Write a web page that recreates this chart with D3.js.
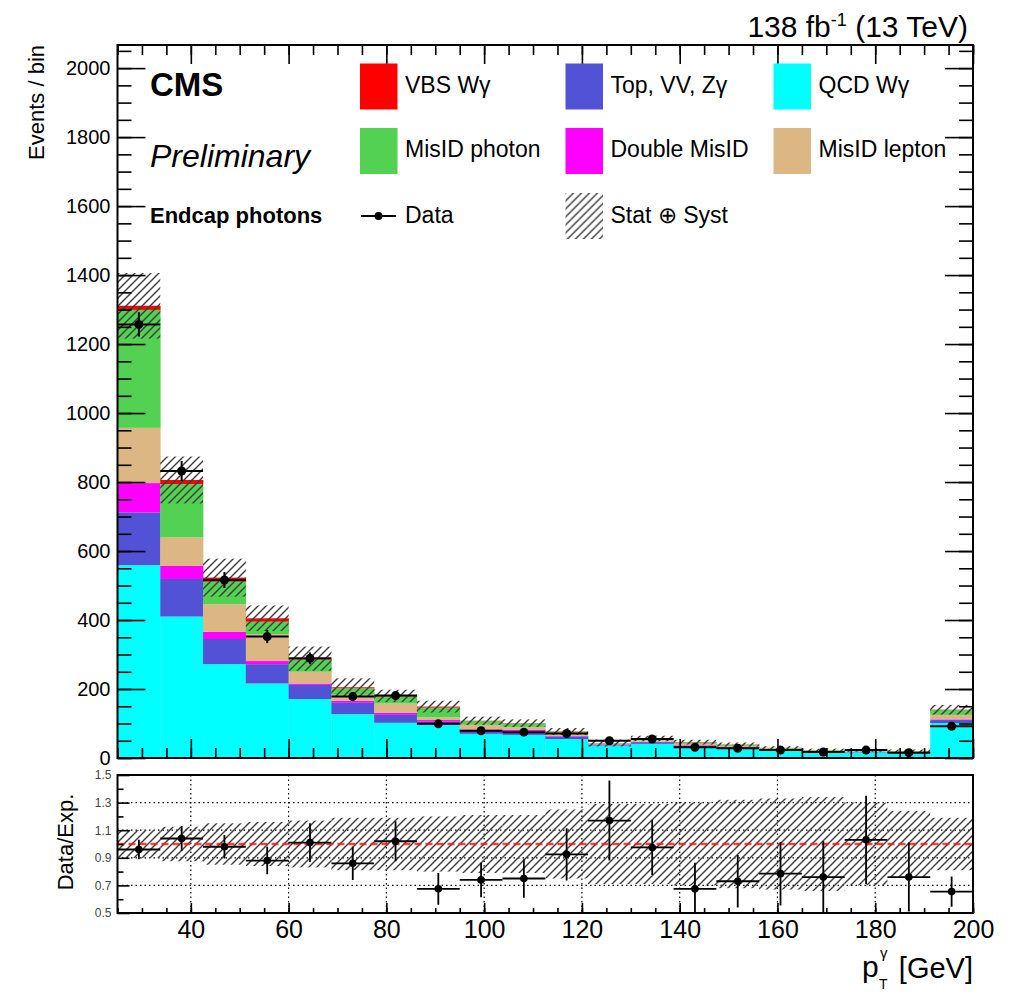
<!DOCTYPE html>
<html>
<head>
<meta charset="utf-8">
<script src="https://cdn.jsdelivr.net/npm/d3@7"></script>
<style>
  body { margin: 0; background: #fff; }
  svg { font-family: "Liberation Sans", Arial, Helvetica, sans-serif; }
</style>
</head>
<body>
<div id="chart"></div>
<script>
// bin edges of the photon pT histogram (last bin holds the overflow)
const binEdges = [25, 33.75, 42.5, 51.25, 60, 68.75, 77.5, 86.25, 95, 103.75, 112.5,
                  121.25, 130, 138.75, 147.5, 156.25, 165, 173.75, 182.5, 191.25, 200];

// stacked backgrounds, bottom to top
const qcdWg   = [559, 410, 272, 216, 171, 127, 102, 96, 70, 67, 55, 36, 41, 30, 27, 21, 17, 16, 14, 101];
const topVV   = [153, 109, 73, 56, 41, 33, 23, 9, 9, 9, 7, 3, 5, 5, 4, 3, 2, 2, 2, 9];
const dblMis  = [85, 38, 21, 9, 4, 6, 6, 5, 4, 6, 2, 1, 1, 2, 1, 1, 1, 0.5, 1, 2];
const misLep  = [160, 83, 80, 78, 34, 17, 27, 8, 13, 7, 7, 2, 5, 4, 3, 2, 1, 1.5, 1.5, 13];
const misPho  = [342, 154, 65, 36, 35, 19, 20, 28, 11, 11, 5, 1, 4, 4, 3, 2, 1.5, 1.5, 1.5, 14];
const vbsWg   = [12, 12, 12, 10, 3, 3, 2, 3, 1, 1, 1, 0.5, 0.5, 1, 1, 0.5, 0.5, 0.5, 0.5, 1];

// stat+syst band on the total (events)
const uncMain = [95, 68, 55, 37, 35, 26, 18, 17, 12, 11, 10, 10, 8, 7, 6, 5, 4, 4, 4, 14];

// observed data
const dataVals = [1257, 832, 516, 352, 289, 178, 181, 99, 79, 75, 71, 50, 55, 31, 28, 23, 17.5, 23, 15.5, 92];
const dataErr  = [35, 29, 23, 19, 17, 13, 13, 10, 9, 9, 8, 7, 7, 6, 5, 5, 4, 5, 4, 10];

// ratio panel
const ratioVals = [0.96, 1.04, 0.98, 0.88, 1.01, 0.86, 1.02, 0.675, 0.74, 0.75, 0.925, 1.17, 0.975,
                   0.675, 0.73, 0.785, 0.76, 1.03, 0.76, 0.655];
const ratioErr  = [0.07, 0.09, 0.085, 0.1, 0.14, 0.12, 0.145, 0.115, 0.125, 0.14, 0.19, 0.29, 0.2,
                   0.19, 0.19, 0.23, 0.26, 0.32, 0.25, 0.11];
const ratioUnc  = [0.10, 0.125, 0.15, 0.16, 0.17, 0.19, 0.19, 0.2, 0.21, 0.21, 0.25, 0.29, 0.29,
                   0.3, 0.32, 0.33, 0.34, 0.3, 0.24, 0.19];

const keys = ["qcd", "top", "dbl", "lep", "pho", "vbs"];
const colors = {
    qcd: "#00ffff", top: "#5252d6", dbl: "#ff00ff",
    lep: "#dcb683", pho: "#52d152", vbs: "#ff0000"
};

const xTicks = [40, 60, 80, 100, 120, 140, 160, 180, 200];
const yTicks = [0, 200, 400, 600, 800, 1000, 1200, 1400, 1600, 1800, 2000];
const rTicks = [0.5, 0.7, 0.9, 1.1, 1.3, 1.5];

const W = 1011, H = 993;
const L = 117.5, R = 973, T = 45, B = 758, RT = 775, RB = 913;

const svg = d3.select("#chart").append("svg")
    .attr("width", W)
    .attr("height", H);

const x = d3.scaleLinear().domain([25, 200]).range([L, R]);
const y = d3.scaleLinear().domain([0, 2067]).range([B, T]);
const yr = d3.scaleLinear().domain([0.5, 1.5]).range([RB, RT]);

const defs = svg.append("defs");
defs.append("pattern")
    .attr("id", "hatch")
    .attr("patternUnits", "userSpaceOnUse")
    .attr("width", 8)
    .attr("height", 8)
    .append("path")
    .attr("d", "M-2,2 l4,-4 M0,8 l8,-8 M6,10 l4,-4")
    .attr("stroke", "#3a3a3a")
    .attr("stroke-width", 1.4);
defs.append("clipPath").attr("id", "clipRatio")
    .append("rect").attr("x", L).attr("y", RT).attr("width", R - L).attr("height", RB - RT);
defs.append("clipPath").attr("id", "clipMain")
    .append("rect").attr("x", L).attr("y", T).attr("width", R - L).attr("height", B - T);

const rows = binEdges.slice(0, -1).map((lo, i) => ({
    lo: lo, hi: binEdges[i + 1],
    qcd: qcdWg[i], top: topVV[i], dbl: dblMis[i], lep: misLep[i], pho: misPho[i], vbs: vbsWg[i]
}));
const stacked = d3.stack().keys(keys)(rows);

// ---- main panel ----
const main = svg.append("g").attr("clip-path", "url(#clipMain)");

main.selectAll("g.layer")
    .data(stacked)
    .join("g")
    .attr("class", "layer")
    .attr("fill", d => colors[d.key])
    .selectAll("rect")
    .data(d => d)
    .join("rect")
    .attr("x", d => x(d.data.lo))
    .attr("width", d => x(d.data.hi) - x(d.data.lo) + 0.3)
    .attr("y", d => y(d[1]))
    .attr("height", d => y(d[0]) - y(d[1]));

const totals = stacked[stacked.length - 1].map(d => d[1]);

main.selectAll("rect.band")
    .data(rows)
    .join("rect")
    .attr("class", "band")
    .attr("x", d => x(d.lo))
    .attr("width", d => x(d.hi) - x(d.lo))
    .attr("y", (d, i) => y(totals[i] + uncMain[i]))
    .attr("height", (d, i) => y(totals[i] - uncMain[i]) - y(totals[i] + uncMain[i]))
    .attr("fill", "url(#hatch)");

const pts = main.selectAll("g.pt")
    .data(rows)
    .join("g")
    .attr("class", "pt");
pts.append("line")
    .attr("x1", d => x(d.lo)).attr("x2", d => x(d.hi))
    .attr("y1", (d, i) => y(dataVals[i])).attr("y2", (d, i) => y(dataVals[i]))
    .attr("stroke", "#000").attr("stroke-width", 2);
pts.append("line")
    .attr("x1", d => x((d.lo + d.hi) / 2)).attr("x2", d => x((d.lo + d.hi) / 2))
    .attr("y1", (d, i) => y(dataVals[i] - dataErr[i])).attr("y2", (d, i) => y(dataVals[i] + dataErr[i]))
    .attr("stroke", "#000").attr("stroke-width", 2);
pts.append("circle")
    .attr("cx", d => x((d.lo + d.hi) / 2))
    .attr("cy", (d, i) => y(dataVals[i]))
    .attr("r", 4.5)
    .attr("fill", "#000");

// main axes
function styleAxis(g) {
    g.select(".domain").remove();
    g.selectAll(".tick line").attr("stroke", "#000").attr("stroke-width", 1.6);
}
const minorX = d3.range(25, 200.1, 5);
const minorY = d3.range(0, 2067, 50);

svg.append("g").attr("transform", `translate(0,${B})`)
    .call(d3.axisBottom(x).tickValues(xTicks).tickSize(-19).tickFormat("")).call(styleAxis);
svg.append("g").attr("transform", `translate(0,${B})`)
    .call(d3.axisBottom(x).tickValues(minorX).tickSize(-10).tickFormat("")).call(styleAxis);
svg.append("g").attr("transform", `translate(0,${T})`)
    .call(d3.axisTop(x).tickValues(xTicks).tickSize(-19).tickFormat("")).call(styleAxis);
svg.append("g").attr("transform", `translate(0,${T})`)
    .call(d3.axisTop(x).tickValues(minorX).tickSize(-10).tickFormat("")).call(styleAxis);

svg.append("g").attr("transform", `translate(${L},0)`)
    .call(d3.axisLeft(y).tickValues(yTicks).tickSize(-28).tickPadding(7).tickFormat(d3.format("d")))
    .call(styleAxis)
    .call(g => g.selectAll("text").attr("font-size", 20).attr("fill", "#000")
        .attr("font-family", "Liberation Sans, Arial, sans-serif"));
svg.append("g").attr("transform", `translate(${L},0)`)
    .call(d3.axisLeft(y).tickValues(minorY).tickSize(-14).tickFormat("")).call(styleAxis);
svg.append("g").attr("transform", `translate(${R},0)`)
    .call(d3.axisRight(y).tickValues(yTicks).tickSize(-28).tickFormat("")).call(styleAxis);
svg.append("g").attr("transform", `translate(${R},0)`)
    .call(d3.axisRight(y).tickValues(minorY).tickSize(-14).tickFormat("")).call(styleAxis);

svg.append("rect")
    .attr("x", L).attr("y", T).attr("width", R - L).attr("height", B - T)
    .attr("fill", "none").attr("stroke", "#000").attr("stroke-width", 2);

svg.append("text")
    .attr("transform", `translate(44,${T}) rotate(-90)`)
    .attr("text-anchor", "end")
    .attr("font-size", 22)
    .text("Events / bin");

// header
const head = svg.append("text")
    .attr("x", 968).attr("y", 37)
    .attr("text-anchor", "end")
    .attr("font-size", 30);
head.append("tspan").text("138 fb");
head.append("tspan").attr("font-size", 18).attr("dy", -11).text("-1");
head.append("tspan").attr("dy", 11).text(" (13 TeV)");

svg.append("text").attr("x", 150).attr("y", 96)
    .attr("font-size", 33).attr("font-weight", "bold").text("CMS");
svg.append("text").attr("x", 150).attr("y", 167)
    .attr("font-size", 32).attr("font-style", "italic").text("Preliminary");
svg.append("text").attr("x", 150).attr("y", 223)
    .attr("font-size", 22).attr("font-weight", "bold").text("Endcap photons");

// legend
const legendItems = [
    { label: "VBS W\u03b3", key: "vbs", col: 0, row: 0 },
    { label: "Top, VV, Z\u03b3", key: "top", col: 1, row: 0 },
    { label: "QCD W\u03b3", key: "qcd", col: 2, row: 0 },
    { label: "MisID photon", key: "pho", col: 0, row: 1 },
    { label: "Double MisID", key: "dbl", col: 1, row: 1 },
    { label: "MisID lepton", key: "lep", col: 2, row: 1 },
    { label: "Data", key: "data", col: 0, row: 2 },
    { label: "Stat \u2295 Syst", key: "unc", col: 1, row: 2 }
];
const colX = [360, 565.5, 773.5];
const rowY = [63.5, 128, 193];

const leg = svg.selectAll("g.leg")
    .data(legendItems)
    .join("g")
    .attr("class", "leg")
    .attr("transform", d => `translate(${colX[d.col]},${rowY[d.row]})`);

leg.filter(d => colors[d.key])
    .append("rect")
    .attr("width", 37.5).attr("height", 46)
    .attr("fill", d => colors[d.key]);
leg.filter(d => d.key === "unc")
    .append("rect")
    .attr("width", 37.5).attr("height", 46)
    .attr("fill", "url(#hatch)");
const dataLeg = leg.filter(d => d.key === "data");
dataLeg.append("line")
    .attr("x1", 1).attr("x2", 36).attr("y1", 23).attr("y2", 23)
    .attr("stroke", "#000").attr("stroke-width", 2);
dataLeg.append("circle")
    .attr("cx", 18.5).attr("cy", 23).attr("r", 4).attr("fill", "#000");
leg.append("text")
    .attr("x", 45).attr("y", d => d.row === 2 ? 29.5 : 29)
    .attr("font-size", 23)
    .text(d => d.label);

// ---- ratio panel ----
const ratio = svg.append("g").attr("clip-path", "url(#clipRatio)");

ratio.selectAll("line.vgrid")
    .data(xTicks.filter(v => v < 200))
    .join("line")
    .attr("class", "vgrid")
    .attr("x1", d => x(d)).attr("x2", d => x(d))
    .attr("y1", RT).attr("y2", RB)
    .attr("stroke", "#000").attr("stroke-width", 1.2).attr("stroke-dasharray", "1.5,3");
ratio.selectAll("line.hgrid")
    .data(rTicks.filter(v => v > 0.5 && v < 1.5))
    .join("line")
    .attr("class", "hgrid")
    .attr("x1", L).attr("x2", R)
    .attr("y1", d => yr(d)).attr("y2", d => yr(d))
    .attr("stroke", "#000").attr("stroke-width", 1.2).attr("stroke-dasharray", "1.5,3");

ratio.selectAll("rect.rband")
    .data(rows)
    .join("rect")
    .attr("class", "rband")
    .attr("x", d => x(d.lo))
    .attr("width", d => x(d.hi) - x(d.lo))
    .attr("y", (d, i) => yr(1 + ratioUnc[i]))
    .attr("height", (d, i) => yr(1 - ratioUnc[i]) - yr(1 + ratioUnc[i]))
    .attr("fill", "url(#hatch)");

ratio.append("line")
    .attr("x1", L).attr("x2", R)
    .attr("y1", yr(1)).attr("y2", yr(1))
    .attr("stroke", "#ff1010").attr("stroke-opacity", 0.8)
    .attr("stroke-width", 2.5).attr("stroke-dasharray", "7,4");

const rpts = ratio.selectAll("g.rpt")
    .data(rows)
    .join("g")
    .attr("class", "rpt");
rpts.append("line")
    .attr("x1", d => x(d.lo)).attr("x2", d => x(d.hi))
    .attr("y1", (d, i) => yr(ratioVals[i])).attr("y2", (d, i) => yr(ratioVals[i]))
    .attr("stroke", "#000").attr("stroke-width", 1.8);
rpts.append("line")
    .attr("x1", d => x((d.lo + d.hi) / 2)).attr("x2", d => x((d.lo + d.hi) / 2))
    .attr("y1", (d, i) => yr(ratioVals[i] - ratioErr[i])).attr("y2", (d, i) => yr(ratioVals[i] + ratioErr[i]))
    .attr("stroke", "#000").attr("stroke-width", 1.8);
rpts.append("circle")
    .attr("cx", d => x((d.lo + d.hi) / 2))
    .attr("cy", (d, i) => yr(ratioVals[i]))
    .attr("r", 3.8)
    .attr("fill", "#000");

// ratio axes
svg.append("g").attr("transform", `translate(0,${RB})`)
    .call(d3.axisBottom(x).tickValues(xTicks).tickSize(-10).tickPadding(7))
    .call(styleAxis)
    .call(g => g.selectAll("text").attr("font-size", 25).attr("fill", "#000")
        .attr("font-family", "Liberation Sans, Arial, sans-serif"));
svg.append("g").attr("transform", `translate(0,${RB})`)
    .call(d3.axisBottom(x).tickValues(minorX).tickSize(-5).tickFormat("")).call(styleAxis);
svg.append("g").attr("transform", `translate(${L},0)`)
    .call(d3.axisLeft(yr).tickValues(rTicks).tickSize(-12).tickPadding(6).tickFormat(d3.format(".1f")))
    .call(styleAxis)
    .call(g => g.selectAll("text").attr("font-size", 12).attr("fill", "#444")
        .attr("font-family", "Liberation Sans, Arial, sans-serif"));
svg.append("g").attr("transform", `translate(${L},0)`)
    .call(d3.axisLeft(yr).tickValues(d3.range(0.6, 1.5, 0.2)).tickSize(-6).tickFormat("")).call(styleAxis);

svg.append("rect")
    .attr("x", L).attr("y", RT).attr("width", R - L).attr("height", RB - RT)
    .attr("fill", "none").attr("stroke", "#000").attr("stroke-width", 2);

svg.append("text")
    .attr("transform", `translate(73,${(RT + RB) / 2 - 2}) rotate(-90)`)
    .attr("text-anchor", "middle")
    .attr("font-size", 22)
    .text("Data/Exp.");

// x title: p, subscript T, superscript gamma, then [GeV]
svg.append("text").attr("x", 973).attr("y", 978)
    .attr("text-anchor", "end").attr("font-size", 29).text("[GeV]");
svg.append("text").attr("x", 862).attr("y", 977)
    .attr("font-size", 30).text("p");
svg.append("text").attr("x", 879).attr("y", 989)
    .attr("font-size", 14).text("T");
svg.append("text").attr("x", 880).attr("y", 958)
    .attr("font-size", 15).text("\u03b3");
</script>
</body>
</html>
